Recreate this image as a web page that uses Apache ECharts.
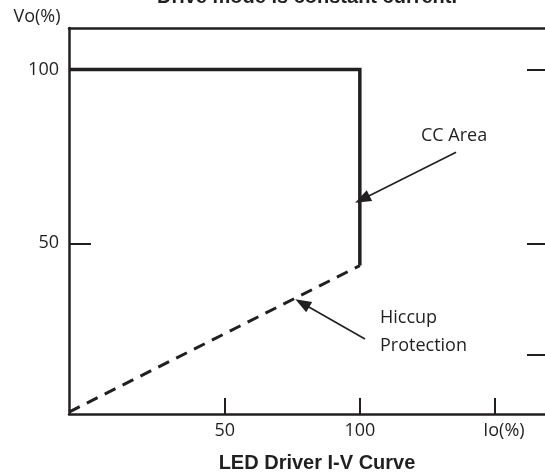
<!DOCTYPE html>
<html>
<head>
<meta charset="utf-8">
<script src="https://cdn.jsdelivr.net/npm/echarts@6/dist/echarts.min.js"></script>
<style>html,body{margin:0;padding:0;background:#fff;}#c{width:545px;height:474px;}</style>
</head>
<body>
<div id="c"></div>
<script>
// Data
const xRange = [-7.6, 168.5];
const yRange = [0.95, 111.9];
const xTickValues = [50, 100, 150];
const xLabelValues = [50, 100, 153.3];
const xTickLabels = ['50', '100', 'Io(%)'];
const yTickValues = [50, 100];
const yTickLabels = ['50', '100'];
const rightTickValues = [18, 50, 100];
const ccCurve = [[-7.6, 100], [100, 100], [100, 43.6]];
const hiccupCurve = [[-7.6, 1.5], [100, 43.6]];
const ccArrow = [[135.6, 76.2], [100.9, 62.7]];
const hiccupArrow = [[101.9, 22.5], [78.7, 32.8]];

const ink = '#231f20';
const chart = echarts.init(document.getElementById('c'), null, {renderer: 'canvas'});
const sansFont = '"Open Sans", "Noto Sans", sans-serif';
const boldFont = '"Liberation Sans", Arial, sans-serif';

chart.setOption({
  animation: false,
  backgroundColor: '#fff',
  grid: {left: 69, right: 0, top: 28, bottom: 60, containLabel: false},
  xAxis: [{
    type: 'value', min: xRange[0], max: xRange[1], position: 'bottom',
    axisLine: {show: true, onZero: false, lineStyle: {color: ink, width: 2.5}},
    axisTick: {show: true, inside: true, length: 16, customValues: xTickValues, lineStyle: {color: ink, width: 2}},
    axisLabel: {show: true, customValues: xLabelValues, margin: 8, color: ink, fontSize: 18, fontFamily: sansFont,
      formatter: function (v) { const i = xLabelValues.indexOf(v); return i >= 0 ? xTickLabels[i] : ''; }},
    splitLine: {show: false}
  }, {
    type: 'value', min: xRange[0], max: xRange[1], position: 'top',
    axisLine: {show: true, onZero: false, lineStyle: {color: ink, width: 2.5}},
    axisTick: {show: false}, axisLabel: {show: false}, splitLine: {show: false}
  }],
  yAxis: [{
    type: 'value', min: yRange[0], max: yRange[1], position: 'left',
    axisLine: {show: true, onZero: false, lineStyle: {color: ink, width: 2.5}},
    axisTick: {show: true, inside: true, length: 22, customValues: yTickValues, lineStyle: {color: ink, width: 2}},
    axisLabel: {show: true, customValues: yTickValues, margin: 10, color: ink, fontSize: 18, fontFamily: sansFont,
      formatter: function (v) { const i = yTickValues.indexOf(v); return i >= 0 ? yTickLabels[i] : ''; }},
    splitLine: {show: false}
  }, {
    type: 'value', min: yRange[0], max: yRange[1], position: 'right',
    axisLine: {show: false, onZero: false},
    axisTick: {show: true, inside: true, length: 18, customValues: rightTickValues, lineStyle: {color: ink, width: 2}},
    axisLabel: {show: false}, splitLine: {show: false}
  }],
  series: [{
    type: 'line', data: ccCurve, symbol: 'none',
    lineStyle: {color: ink, width: 3.5, join: 'miter'}, z: 5
  }, {
    type: 'line', data: hiccupCurve, symbol: 'none',
    lineStyle: {color: ink, width: 3, type: [12, 8]}, z: 5
  }, {
    type: 'line', data: [], symbol: 'none',
    markLine: {
      silent: true, symbol: ['none', 'triangle'], symbolSize: [12, 16],
      label: {show: false},
      lineStyle: {color: ink, width: 1.6, type: 'solid'},
      data: [
        [{coord: ccArrow[0]}, {coord: ccArrow[1]}],
        [{coord: hiccupArrow[0]}, {coord: hiccupArrow[1]}]
      ]
    }
  }],
  graphic: [
    {type: 'text', style: {text: 'Drive mode is constant current.', x: 307, y: 7, align: 'center', verticalAlign: 'bottom', font: 'bold 20px ' + boldFont, fill: ink}},
    {type: 'text', style: {text: 'Vo(%)', x: 37, y: 17, align: 'center', verticalAlign: 'middle', font: '18px ' + sansFont, fill: ink}},
    {type: 'text', style: {text: 'CC Area', x: 421, y: 136, align: 'left', verticalAlign: 'middle', font: '18px ' + sansFont, fill: ink}},
    {type: 'text', style: {text: 'Hiccup', x: 380, y: 318, align: 'left', verticalAlign: 'middle', font: '18px ' + sansFont, fill: ink}},
    {type: 'text', style: {text: 'Protection', x: 380, y: 346, align: 'left', verticalAlign: 'middle', font: '18px ' + sansFont, fill: ink}},
    {type: 'text', style: {text: 'LED Driver I-V Curve', x: 317, y: 463, align: 'center', verticalAlign: 'middle', font: 'bold 20px ' + boldFont, fill: ink}}
  ]
});
</script>
</body>
</html>
